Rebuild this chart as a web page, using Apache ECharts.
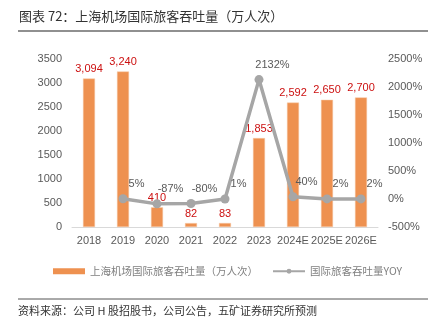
<!DOCTYPE html>
<html>
<head>
<meta charset="utf-8">
<script src="https://cdn.jsdelivr.net/npm/echarts@6/dist/echarts.min.js"></script>
<style>
html,body{margin:0;padding:0;background:#fff;}
#c{width:430px;height:327px;}
</style>
</head>
<body>
<div id="c"></div>
<script>
var categories = ['2018','2019','2020','2021','2022','2023','2024E','2025E','2026E'];
var passengers = [3094, 3240, 410, 82, 83, 1853, 2592, 2650, 2700];
var yoy = [null, 5, -87, -80, 1, 2132, 40, 2, 2];
var barName = '上海机场国际旅客吞吐量（万人次）';
var lineName = '国际旅客吞吐量YOY';
var titleText = '图表 72：上海机场国际旅客吞吐量（万人次）';
var sourceText = '资料来源：公司 H 股招股书，公司公告，五矿证券研究所预测';

var font = '"Liberation Sans", "Noto Sans CJK SC", sans-serif';
var cjk = '"Noto Sans CJK SC", "Noto Sans", sans-serif';

var chart = echarts.init(document.getElementById('c'), null, {renderer: 'canvas'});
chart.setOption({
  animation: false,
  textStyle: {fontFamily: font},
  title: {
    text: titleText, left: 14, top: 5,
    textStyle: {fontSize: 13, fontWeight: 'normal', color: '#333', fontFamily: cjk}
  },
  graphic: [
    {type: 'line', shape: {x1: 18, y1: 31, x2: 428, y2: 31}, style: {stroke: '#222', lineWidth: 1.2}},
    {type: 'line', shape: {x1: 18, y1: 299, x2: 428, y2: 299}, style: {stroke: '#555', lineWidth: 1}},
    {type: 'text', left: 18, top: 305, style: {text: sourceText, fontSize: 11, fill: '#333', fontFamily: cjk}}
  ],
  legend: {
    left: 48, top: 261, itemGap: 14, width: 400,
    textStyle: {fontSize: 10.5, color: '#7f7f7f', fontFamily: cjk},
    data: [
      {name: barName, icon: 'rect', itemStyle: {color: '#EE9150', borderWidth: 0}},
      {name: lineName}
    ],
    itemWidth: 32, itemHeight: 6
  },
  grid: {left: 72, right: 52, top: 59, bottom: 100, containLabel: false},
  xAxis: {
    type: 'category', data: categories,
    axisLine: {lineStyle: {color: '#d9d9d9'}},
    axisTick: {show: false},
    axisLabel: {color: '#595959', fontSize: 11, margin: 8, interval: 0}
  },
  yAxis: [
    {
      type: 'value', min: 0, max: 3500, interval: 500,
      splitLine: {show: false}, axisLine: {show: false}, axisTick: {show: false},
      axisLabel: {color: '#595959', fontSize: 11, margin: 10, formatter: function (v) { return String(v); }}
    },
    {
      type: 'value', min: -500, max: 2500, interval: 500,
      splitLine: {show: false}, axisLine: {show: false}, axisTick: {show: false},
      axisLabel: {color: '#595959', fontSize: 11, margin: 10, formatter: function (v) { return v + '%'; }}
    }
  ],
  series: [
    {
      name: barName, type: 'bar', data: passengers, barWidth: 12,
      itemStyle: {color: '#EE9150', borderColor: '#F6C8A6', borderWidth: 0.5},
      label: {
        show: true, position: 'top', distance: 4, color: '#CC1010', fontSize: 11,
        formatter: function (p) { return p.value.toLocaleString('en-US'); }
      }
    },
    {
      name: lineName, type: 'line', yAxisIndex: 1, data: yoy,
      symbol: 'circle', symbolSize: 9,
      lineStyle: {color: '#A6A6A6', width: 3.5},
      itemStyle: {color: '#A6A6A6'},
      label: {
        show: true, position: [18, -10], align: 'center', verticalAlign: 'middle',
        color: '#595959', fontSize: 11,
        formatter: '{c}%'
      }
    }
  ]
});
</script>
</body>
</html>
